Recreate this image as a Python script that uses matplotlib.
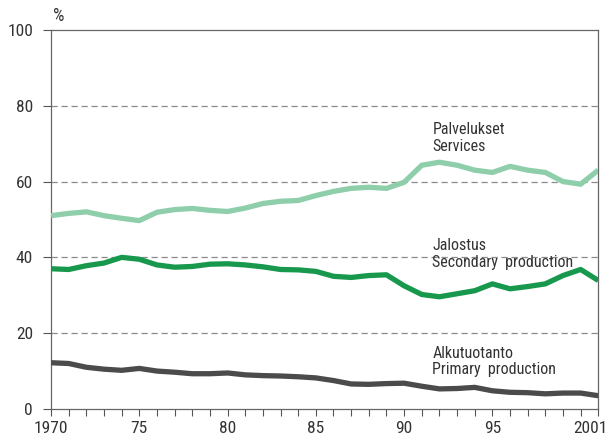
import numpy as np
import matplotlib
matplotlib.use("Agg")
import matplotlib.pyplot as plt
from matplotlib.transforms import ScaledTranslation

plt.rcParams["font.family"] = ["Roboto Condensed", "Archivo Narrow", "DejaVu Sans"]

years = list(range(1970, 2002))

services = [51.0, 51.6, 52.0, 51.0, 50.3, 49.7, 51.9, 52.6, 52.9, 52.4,
            52.1, 53.0, 54.2, 54.8, 55.0, 56.3, 57.4, 58.2, 58.5, 58.2,
            59.8, 64.3, 65.1, 64.3, 63.0, 62.4, 64.0, 63.0, 62.4, 60.0,
            59.3, 63.0]
secondary = [37.0, 36.8, 37.8, 38.5, 40.0, 39.5, 38.0, 37.4, 37.6, 38.2,
             38.3, 38.0, 37.5, 36.8, 36.7, 36.3, 35.0, 34.7, 35.2, 35.4,
             32.5, 30.2, 29.6, 30.4, 31.2, 33.0, 31.7, 32.3, 33.0, 35.2,
             36.8, 33.9]
primary = [12.2, 12.0, 11.0, 10.5, 10.2, 10.7, 10.0, 9.7, 9.3, 9.3,
           9.5, 9.0, 8.8, 8.7, 8.5, 8.2, 7.5, 6.6, 6.5, 6.7,
           6.8, 6.0, 5.3, 5.4, 5.7, 4.8, 4.4, 4.3, 4.0, 4.2,
           4.2, 3.5]

series_labels = ["Palvelukset\nServices", "Jalostus\nSecondary  production",
                 "Alkutuotanto\nPrimary  production"]
label_tops = [75.7, 45.0, 16.7]
colors = ["#8fceab", "#17984d", "#4b4b4b"]

xtick_pos = [1970, 1975, 1980, 1985, 1990, 1995, 2001]
xtick_labels = ["1970", "75", "80", "85", "90", "95", "2001"]

fig = plt.figure(figsize=[6.08, 4.40], dpi=100)
ax = fig.add_axes([0.084, 0.0705, 0.9, 0.8615])

for vals, col in zip([services, secondary, primary], colors):
    ax.plot(years, vals, color=col, lw=3.8, solid_joinstyle="round",
            solid_capstyle="butt", zorder=3)

for y in [20, 40, 60, 80]:
    ax.axhline(y, color="#8a8a8a", lw=0.9, ls=(0, (5, 3)), zorder=1)

for lab, top in zip(series_labels, label_tops):
    ax.text(1991.6, top, lab, va="top", ha="left", fontsize=11.5,
            color="#333333", linespacing=1.15)

ax.set_xlim(1970, 2001)
ax.set_ylim(0, 100)
ax.set_yticks([0, 20, 40, 60, 80, 100])
ax.set_xticks(years, minor=True)
ax.set_xticks(xtick_pos)
ax.set_xticklabels(xtick_labels)
ax.tick_params(axis="both", labelsize=12.5, colors="#333333", width=0.8)
ax.tick_params(axis="x", which="both", length=5, direction="out", pad=4,
               color="#555555", width=0.8)
ax.tick_params(axis="y", length=6, direction="out", pad=7, color="#555555")
for s in ax.spines.values():
    s.set_color("#666666")
    s.set_linewidth(0.9)

# last year label sits flush with the right edge, like the original
last = ax.get_xticklabels()[-1]
last.set_horizontalalignment("right")
last.set_transform(last.get_transform() + ScaledTranslation(0.09, 0, fig.dpi_scale_trans))

ax.text(0.003, 1.012, "%", transform=ax.transAxes, fontsize=13,
        color="#333333", ha="left", va="bottom")

fig.savefig("out.png", dpi=100)
